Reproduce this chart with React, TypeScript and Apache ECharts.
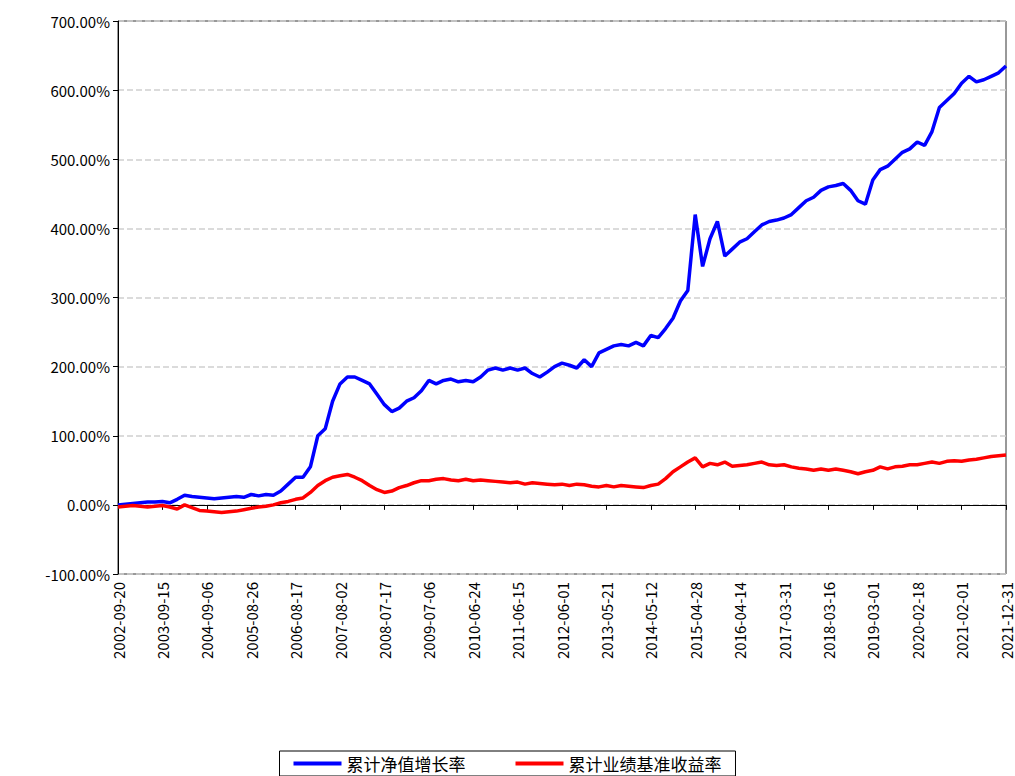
import React, { useEffect, useRef } from 'react';
import * as echarts from 'echarts';

const tickLabels = [
  '2002-09-20', '2003-09-15', '2004-09-06', '2005-08-26', '2006-08-17', '2007-08-02', '2008-07-17',
  '2009-07-06', '2010-06-24', '2011-06-15', '2012-06-01', '2013-05-21', '2014-05-12', '2015-04-28',
  '2016-04-14', '2017-03-31', '2018-03-16', '2019-03-01', '2020-02-18', '2021-02-01', '2021-12-31',
];
const stepsPerLabel = 6;

const navGrowth = [
  0, 1, 2, 3, 4, 4,
  5, 3, 8, 14, 12, 11,
  10, 9, 10, 11, 12, 11,
  15, 13, 15, 14, 20, 30,
  40, 40, 55, 100, 110, 150,
  175, 185, 185, 180, 175, 160,
  145, 135, 140, 150, 155, 165,
  180, 175, 180, 182, 178, 180,
  178, 185, 195, 198, 195, 198,
  195, 198, 190, 185, 192, 200,
  205, 202, 198, 210, 200, 220,
  225, 230, 232, 230, 235, 230,
  245, 242, 255, 270, 295, 310,
  420, 345, 385, 410, 360, 370,
  380, 385, 395, 405, 410, 412,
  415, 420, 430, 440, 445, 455,
  460, 462, 465, 455, 440, 435,
  470, 485, 490, 500, 510, 515,
  525, 520, 540, 575, 585, 595,
  610, 620, 612, 615, 620, 625,
  635,
];
const benchmark = [
  -3, -2, -1, -2, -3, -2,
  -1, -3, -6, 0, -4, -8,
  -9, -10, -11, -10, -9, -7,
  -5, -3, -2, 0, 3, 5,
  8, 10, 18, 28, 35, 40,
  42, 44, 40, 35, 28, 22,
  18, 20, 25, 28, 32, 35,
  35, 37, 38, 36, 35, 37,
  35, 36, 35, 34, 33, 32,
  33, 30, 32, 31, 30, 29,
  30, 28, 30, 29, 27, 26,
  28, 26, 28, 27, 26, 25,
  28, 30, 38, 48, 55, 62,
  68, 55, 60, 58, 62, 56,
  57, 58, 60, 62, 58, 57,
  58, 55, 53, 52, 50, 52,
  50, 52, 50, 48, 45, 48,
  50, 55, 52, 55, 56, 58,
  58, 60, 62, 60, 63, 64,
  63, 65, 66, 68, 70, 71,
  72,
];

const font = '"Noto Sans CJK SC", sans-serif';

export default function App() {
  const ref = useRef<HTMLDivElement>(null);

  useEffect(() => {
    document.body.style.margin = '0';
    if (!ref.current) return;
    const chart = echarts.init(ref.current, undefined, { renderer: 'svg' });
    chart.setOption({
      animation: false,
      textStyle: { fontFamily: font },
      grid: { left: 118, right: 9, top: 21, bottom: 202, show: true, borderColor: '#333', borderWidth: 1 },
      legend: {
        bottom: 0, left: 'center', itemWidth: 48, itemHeight: 4, itemGap: 50,
        borderColor: '#000', borderWidth: 1, padding: [4, 14],
        textStyle: { fontSize: 17, color: '#000', fontFamily: font },
        icon: 'rect',
      },
      xAxis: {
        type: 'value', min: 0, max: (tickLabels.length - 1) * stepsPerLabel, interval: stepsPerLabel,
        splitLine: { show: false },
        axisLine: { lineStyle: { color: '#000' } },
        axisTick: { show: true, lineStyle: { color: '#000' } },
        axisLabel: {
          rotate: 90, color: '#000', fontSize: 15, fontFamily: font,
          formatter: (v: number) => tickLabels[Math.round(v / stepsPerLabel)] ?? '',
        },
      },
      yAxis: {
        type: 'value', min: -100, max: 700, interval: 100,
        axisLine: { show: true, lineStyle: { color: '#000' } },
        axisTick: { show: true, lineStyle: { color: '#000' } },
        axisLabel: { color: '#000', fontSize: 15, fontFamily: font, formatter: (v: number) => `${v.toFixed(2)}%` },
        splitLine: { lineStyle: { type: 'dashed', color: '#d0d0d0', width: 1.5 } },
      },
      series: [
        {
          name: '累计净值增长率', type: 'line', showSymbol: false,
          data: navGrowth.map((v, i) => [i, v]),
          lineStyle: { color: '#0000ff', width: 3.5 }, itemStyle: { color: '#0000ff' },
        },
        {
          name: '累计业绩基准收益率', type: 'line', showSymbol: false,
          data: benchmark.map((v, i) => [i, v]),
          lineStyle: { color: '#ff0000', width: 3.5 }, itemStyle: { color: '#ff0000' },
        },
      ],
    });
    return () => chart.dispose();
  }, []);

  return <div ref={ref} style={{ width: 1015, height: 776 }} />;
}
